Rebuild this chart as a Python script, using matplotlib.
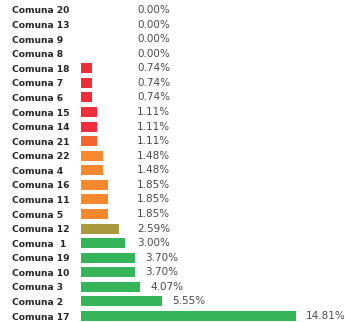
import matplotlib
matplotlib.use("Agg")
import matplotlib.pyplot as plt

# Share of cases per comuna (top to bottom)
comunas = ["Comuna 20", "Comuna 13", "Comuna 9", "Comuna 8", "Comuna 18",
           "Comuna 7", "Comuna 6", "Comuna 15", "Comuna 14", "Comuna 21",
           "Comuna 22", "Comuna 4", "Comuna 16", "Comuna 11", "Comuna 5",
           "Comuna 12", "Comuna  1", "Comuna 19", "Comuna 10", "Comuna 3",
           "Comuna 2", "Comuna 17"]
share = [0.00, 0.00, 0.00, 0.00, 0.74, 0.74, 0.74, 1.11, 1.11, 1.11,
         1.48, 1.48, 1.85, 1.85, 1.85, 2.59, 3.00, 3.70, 3.70, 4.07,
         5.55, 14.81]

RED, RED_ORANGE, ORANGE, OLIVE, GREEN = "#EE2F3B", "#F26430", "#F6892F", "#A8993C", "#35B45A"
colors = [RED] * 9 + [RED_ORANGE] + [ORANGE] * 5 + [OLIVE] + [GREEN] * 6

fig = plt.figure(figsize=(3.45, 3.22), dpi=100)
ax = fig.add_axes([0.235, 0.0, 0.631, 1.0])

ypos = list(range(len(comunas)))
ax.barh(ypos, share, height=0.68, color=colors)

ax.set_xlim(0, 15)
ax.set_ylim(21.41, -0.686)
ax.set_yticks(ypos)
ax.set_yticklabels(comunas, fontsize=6.6, fontweight="bold", color="#262626",
                   family="DejaVu Sans")
# names left-aligned in a column near the left edge
for lab in ax.get_yticklabels():
    lab.set_horizontalalignment("left")
ax.tick_params(axis="y", length=0, pad=49.7)
ax.set_xticks([])
for s in ax.spines.values():
    s.set_visible(False)

# value labels: a fixed column for short bars, just past the bar end for long ones
col_x = 3.86
pad_x = 0.7
for y, v in zip(ypos, share):
    ax.text(max(v + pad_x, col_x), y, f"{v:.2f}%", va="center", ha="left",
            fontsize=7.5, color="#4a4a4a", clip_on=False)

fig.savefig("out.png", dpi=100)
